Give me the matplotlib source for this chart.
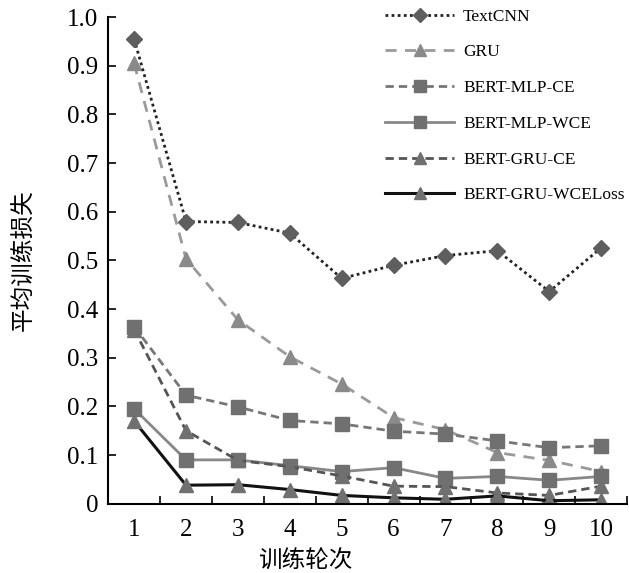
import numpy as np
import matplotlib.pyplot as plt
from matplotlib.ticker import FixedLocator

plt.rcParams['font.family'] = ['Liberation Serif', 'DejaVu Serif']

epochs = [1, 2, 3, 4, 5, 6, 7, 8, 9, 10]

textcnn = [0.955, 0.580, 0.578, 0.556, 0.463, 0.490, 0.510, 0.520, 0.436, 0.526]
gru = [0.905, 0.503, 0.378, 0.302, 0.246, 0.177, 0.152, 0.105, 0.089, 0.066]
mlp_ce = [0.364, 0.223, 0.199, 0.171, 0.164, 0.149, 0.143, 0.129, 0.115, 0.119]
mlp_wce = [0.195, 0.090, 0.090, 0.078, 0.066, 0.074, 0.052, 0.056, 0.048, 0.056]
gru_ce = [0.358, 0.150, 0.089, 0.076, 0.057, 0.036, 0.035, 0.022, 0.017, 0.036]
gru_wce = [0.170, 0.038, 0.039, 0.029, 0.017, 0.012, 0.009, 0.016, 0.006, 0.008]

names = ['TextCNN', 'GRU', 'BERT-MLP-CE', 'BERT-MLP-WCE', 'BERT-GRU-CE', 'BERT-GRU-WCELoss']

yticks = [0, 0.1, 0.2, 0.3, 0.4, 0.5, 0.6, 0.7, 0.8, 0.9, 1.0]
ytick_labels = ['0', '0.1', '0.2', '0.3', '0.4', '0.5', '0.6', '0.7', '0.8', '0.9', '1.0']

fig = plt.figure(figsize=(6.29, 5.73), dpi=100)
ax = fig.add_axes([0.172, 0.121, 0.825, 0.849])

mk = '#707070'
ax.plot(epochs, textcnn, color='#222222', ls=(0, (1, 1.2)), lw=2.0, marker='D', ms=8,
        mfc='#5e5e5e', mec='#5e5e5e', label=names[0], zorder=3)
ax.plot(epochs, gru, color='#9a9a9a', ls=(0, (4, 3)), lw=2.0, marker='^', ms=10,
        mfc='#8a8a8a', mec='#8a8a8a', label=names[1], zorder=2)
ax.plot(epochs, mlp_ce, color='#777777', ls=(0, (3, 1.8)), lw=2.0, marker='s', ms=10,
        mfc=mk, mec=mk, label=names[2], zorder=2)
ax.plot(epochs, mlp_wce, color='#888888', ls='-', lw=2.0, marker='s', ms=10,
        mfc=mk, mec=mk, label=names[3], zorder=2)
ax.plot(epochs, gru_ce, color='#555555', ls=(0, (3, 1.8)), lw=2.0, marker='^', ms=10,
        mfc=mk, mec=mk, label=names[4], zorder=2)
ax.plot(epochs, gru_wce, color='#111111', ls='-', lw=2.2, marker='^', ms=10,
        mfc=mk, mec=mk, label=names[5], zorder=2)

ax.set_xlim(0.5, 10.5)
ax.set_ylim(0, 1.0)
ax.set_xticks(epochs)
ax.xaxis.set_minor_locator(FixedLocator(np.arange(0.5, 11, 1.0)))
ax.tick_params(axis='x', which='major', length=0, labelsize=18, pad=11)
ax.tick_params(axis='x', which='minor', direction='in', length=6, width=1.2)
ax.set_yticks(yticks)
ax.set_yticklabels(ytick_labels)
ax.tick_params(axis='y', direction='in', length=6, width=1.2, labelsize=18, pad=7)

for s in ['top', 'right']:
    ax.spines[s].set_visible(False)
for s in ['left', 'bottom']:
    ax.spines[s].set_linewidth(1.5)

ax.set_xlabel('训练轮次', family=['Noto Sans CJK SC', 'DejaVu Sans'], fontsize=17)
ax.xaxis.set_label_coords(0.38, -0.095)
ax.set_ylabel('平均训练损失', family=['Noto Sans CJK SC', 'DejaVu Sans'], fontsize=17)
ax.yaxis.set_label_coords(-0.14, 0.5)

ax.legend(loc='upper right', bbox_to_anchor=(1.025, 1.05), frameon=False, fontsize=12.5,
          handlelength=4.0, labelspacing=1.13, handletextpad=0.5, markerscale=0.85)

fig.savefig('out.png', dpi=100)
